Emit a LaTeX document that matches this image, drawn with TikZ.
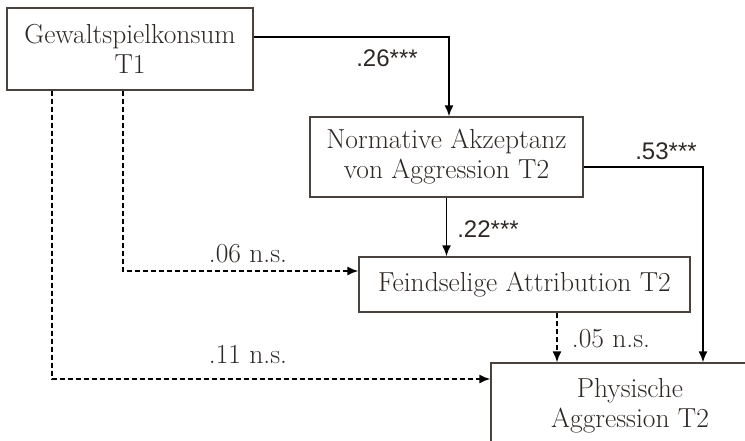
\documentclass[tikz,border=0pt]{standalone}
\usepackage{fontspec}
\newfontfamily\coefsans{Liberation Sans}
\usetikzlibrary{arrows.meta,calc}
\definecolor{boxgray}{HTML}{4A423D}
\definecolor{textgray}{HTML}{2E2825}

\begin{document}
\begin{tikzpicture}[x=1pt,y=-1pt,
		var/.style={draw=boxgray, line width=1.2pt, text=textgray, align=center, inner sep=0pt, font=\fontsize{27.5}{30}\selectfont},
		sig/.style={line width=1.8pt, -{Latex[length=11pt,width=9pt]}},
		ns/.style={sig, dash pattern=on 5pt off 3pt},
		coef/.style={anchor=base, text=textgray, inner sep=0pt, font=\fontsize{27.5}{30}\selectfont},
		coefstar/.style={coef, font=\coefsans\fontsize{24}{30}\selectfont}]
	\useasboundingbox (0,0) rectangle (745,441);

	% variables
	\node[var, minimum width=246pt, minimum height=82pt] (gewalt) at (130,49) {Gewaltspielkonsum\\T1};
	\node[var, minimum width=273pt, minimum height=80pt] (norm) at (446.5,157) {Normative Akzeptanz\\von Aggression T2};
	\node[var, minimum width=331pt, minimum height=55pt] (feind) at (524.5,284.5) {Feindselige Attribution T2};
	\node[var, minimum width=278pt, minimum height=86pt] (phys) at (630,406) {Physische\\Aggression T2};

	% bends
	\coordinate (k26) at (449,37);
	\coordinate (k53) at (703,167);
	\coordinate (k05) at (557,312);
	\coordinate (k06) at (123,271);
	\coordinate (k11) at (52,379);

	% paths
	\draw[sig] (gewalt.east |- k26) -- (k26) -- (k26 |- norm.north);
	\draw[sig] (norm.east |- k53) -- (k53) -- (k53 |- phys.north);
	\draw[sig] (norm.south) -- (norm.south |- feind.north);
	\draw[ns] (feind.south -| k05) -- (k05 |- phys.north);
	\draw[ns] (gewalt.south -| k06) -- (k06) -- (k06 -| feind.west);
	\draw[ns] (gewalt.south -| k11) -- (k11) -- (k11 -| phys.west);

	% coefficients
	\node[coefstar] (c26) at (387,67) {.26***};
	\node[coefstar] (c53) at (666,160) {.53***};
	\node[coefstar] (c22) at (488,237) {.22***};
	\node[coef] (c06) at (248,262) {.06 n.s.};
	\node[coef] (c11) at (248,363) {.11 n.s.};
	\node[coef] (c05) at (611,347) {.05 n.s.};
\end{tikzpicture}
\end{document}
